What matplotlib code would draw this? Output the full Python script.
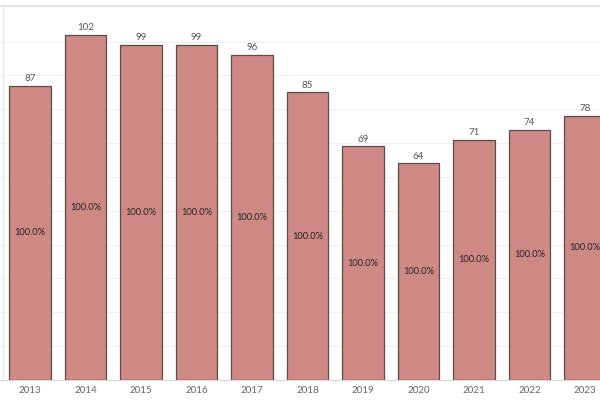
import matplotlib
matplotlib.use("Agg")
import matplotlib.pyplot as plt

years = ["2013", "2014", "2015", "2016", "2017", "2018", "2019", "2020", "2021", "2022", "2023"]
values = [87, 102, 99, 99, 96, 85, 69, 64, 71, 74, 78]
shares = ["100.0%"] * len(years)

plt.rcParams['font.family'] = ['Lato', 'DejaVu Sans']

fig = plt.figure(figsize=(6, 4), dpi=100)
ax = fig.add_axes([0, 0.05, 1, 0.935])

x = list(range(len(years)))
ax.bar(x, values, width=0.75, color="#cf8985", edgecolor="#5a4a4a", linewidth=0.9, zorder=3)

for xi, v, s in zip(x, values, shares):
    ax.text(xi, v + 0.8, str(v), ha='center', va='bottom', fontsize=7, color="#555555", zorder=4)
    ax.text(xi, v / 2, s, ha='center', va='center', fontsize=6.7, color="#222222", zorder=4)

ax.set_xlim(-0.54, 10.27)
ax.set_ylim(0, 110.5)
ax.set_yticks(range(0, 110, 10))
ax.set_yticklabels([])
ax.tick_params(axis='y', length=0)
ax.set_xticks(x)
ax.set_xticklabels(years, fontsize=7, color="#666666")
ax.tick_params(axis='x', length=0, pad=4)
ax.grid(axis='y', color="#f0f0f0", linewidth=0.8, zorder=0)

for side in ['left', 'right']:
    ax.spines[side].set_visible(False)
ax.spines['top'].set_color("#e3e3e3")
ax.spines['top'].set_linewidth(1.5)
ax.spines['bottom'].set_color("#d8d8d8")
ax.axvline(-0.49, color="#e8e8e8", linewidth=1, zorder=1)

fig.savefig("out.png", dpi=100)
